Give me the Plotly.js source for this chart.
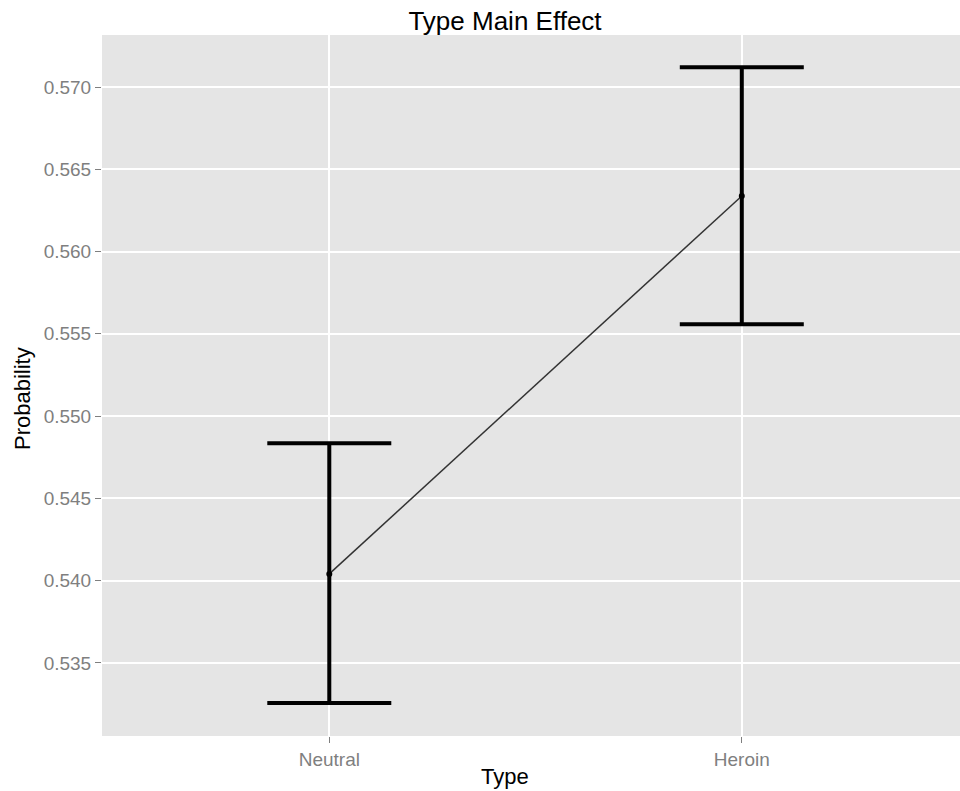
<!DOCTYPE html>
<html>
<head>
<meta charset="utf-8">
<script src="https://cdn.plot.ly/plotly-3.0.1.min.js"></script>
<style>html,body{margin:0;padding:0;background:#fff;}#chart{width:960px;height:791px;}</style>
</head>
<body>
<div id="chart"></div>
<script>
var types = ['Neutral', 'Heroin'];
var probability = [0.54041, 0.56338];
var upperCI = [0.54835, 0.57120];
var lowerCI = [0.53256, 0.55558];
var yTicks = [0.535, 0.540, 0.545, 0.550, 0.555, 0.560, 0.565, 0.570];
var yTickLabels = ['0.535', '0.540', '0.545', '0.550', '0.555', '0.560', '0.565', '0.570'];

var errPlus = upperCI.map(function (u, i) { return u - probability[i]; });
var errMinus = lowerCI.map(function (l, i) { return probability[i] - l; });

var trace = {
  x: types,
  y: probability,
  type: 'scatter',
  mode: 'lines+markers',
  line: {color: '#333333', width: 1.5},
  marker: {color: '#000000', size: 6},
  error_y: {
    type: 'data',
    array: errPlus,
    arrayminus: errMinus,
    visible: true,
    color: '#000000',
    thickness: 4,
    width: 62
  },
  hoverinfo: 'x+y',
  showlegend: false
};

var layout = {
  width: 960,
  height: 791,
  margin: {l: 102, r: 0, t: 35, b: 55},
  paper_bgcolor: '#ffffff',
  plot_bgcolor: '#E5E5E5',
  font: {family: 'Liberation Sans, Arial, sans-serif', color: '#000000'},
  title: {
    text: 'Type Main Effect',
    font: {size: 26, color: '#000000'},
    xref: 'container', x: 505 / 960, xanchor: 'center',
    yref: 'container', y: 1 - 21 / 791, yanchor: 'middle'
  },
  xaxis: {
    type: 'category',
    range: [-0.551, 1.529],
    showgrid: true,
    gridcolor: '#ffffff',
    gridwidth: 2,
    zeroline: false,
    showline: false,
    ticks: 'outside',
    ticklen: 6,
    tickwidth: 1,
    tickcolor: '#7F7F7F',
    tickfont: {size: 19, color: '#7F7F7F'},
    title: {text: ''}
  },
  yaxis: {
    range: [0.53056, 0.57316],
    tickvals: yTicks,
    ticktext: yTickLabels,
    showgrid: true,
    gridcolor: '#ffffff',
    gridwidth: 2,
    zeroline: false,
    showline: false,
    ticks: 'outside',
    ticklen: 6,
    tickwidth: 1,
    tickcolor: '#7F7F7F',
    tickfont: {size: 19, color: '#7F7F7F'},
    title: {text: ''}
  },
  annotations: [
    {text: 'Type', xref: 'paper', yref: 'paper', x: (505 - 102) / 858, y: -(776 - 736) / 701,
     xanchor: 'center', yanchor: 'middle', showarrow: false, font: {size: 22, color: '#000000'}},
    {text: 'Probability', xref: 'paper', yref: 'paper', x: -(102 - 22) / 858, y: (736 - 399) / 701,
     xanchor: 'center', yanchor: 'middle', textangle: -90, showarrow: false, font: {size: 22, color: '#000000'}}
  ]
};

Plotly.newPlot('chart', [trace], layout, {displayModeBar: false, staticPlot: true});
</script>
</body>
</html>
